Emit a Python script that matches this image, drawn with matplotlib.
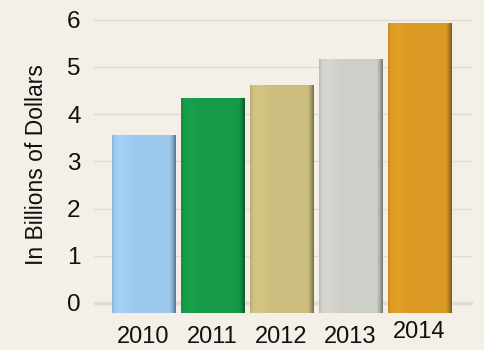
import numpy as np
import matplotlib
matplotlib.use('Agg')
import matplotlib.pyplot as plt
from matplotlib.colors import to_rgb

# data
years = ['2010', '2011', '2012', '2013', '2014']
values = [3.55, 4.33, 4.62, 5.17, 5.92]
colors = ['#9cc8ee', '#169a47', '#cbbe7e', '#cfcfc9', '#da9a25']
yticks = [0, 1, 2, 3, 4, 5, 6]

plt.rcParams['font.family'] = ['Liberation Sans', 'DejaVu Sans']

bg = '#f4f0e8'
fig = plt.figure(figsize=(4.84, 3.5), dpi=100, facecolor=bg)
ax = fig.add_axes([0.194, 0.1006, 0.7825, 0.857], facecolor=bg)

base = -0.21
x = np.arange(len(years))
bars = ax.bar(x, np.array(values) - base, bottom=base, width=0.92,
              color=colors, zorder=3, linewidth=0)

# horizontal shading on each bar to give the rounded 3d look
prof = np.linspace(0, 1, 64)
shade = 1.0 + 0.04 * np.exp(-((prof - 0.15) / 0.12) ** 2) \
        - 0.4 * np.clip((prof - 0.9) / 0.1, 0, 1) ** 1.5 \
        - 0.1 * np.clip((0.04 - prof) / 0.04, 0, 1)
for b, c in zip(bars, colors):
    rgb = np.array(to_rgb(c))
    img = np.clip(rgb[None, None, :] * shade[None, :, None], 0, 1)
    x0, y0 = b.get_x(), b.get_y()
    im = ax.imshow(img, extent=[x0, x0 + b.get_width(), y0, y0 + b.get_height()],
                   aspect='auto', zorder=4, interpolation='bilinear')
    im.set_clip_path(b)

ax.set_xlim(-0.72, 4.77)
ax.set_ylim(-0.25, 6.1)
ax.set_yticks(yticks)
ax.set_yticklabels([str(t) for t in yticks], fontsize=17.5, color='#111111')
ax.set_xticks(x)
ax.set_xticklabels(years, fontsize=17, color='#111111')
ax.tick_params(length=0)
ax.tick_params(axis='y', pad=9.5)
ax.tick_params(axis='x', pad=8)
ax.get_xticklabels()[-1].set_y(0.015)

for t in yticks[1:]:
    ax.axhline(t, color='#e0dcd3', lw=1, zorder=1)
ax.axhline(0, color='#d8d4cb', lw=2.5, alpha=0.7, zorder=1)

for s in ax.spines.values():
    s.set_visible(False)

ax.set_ylabel('In Billions of Dollars', fontsize=16.5, labelpad=14, color='#111111')

fig.savefig('out.png', dpi=100, facecolor=bg)
